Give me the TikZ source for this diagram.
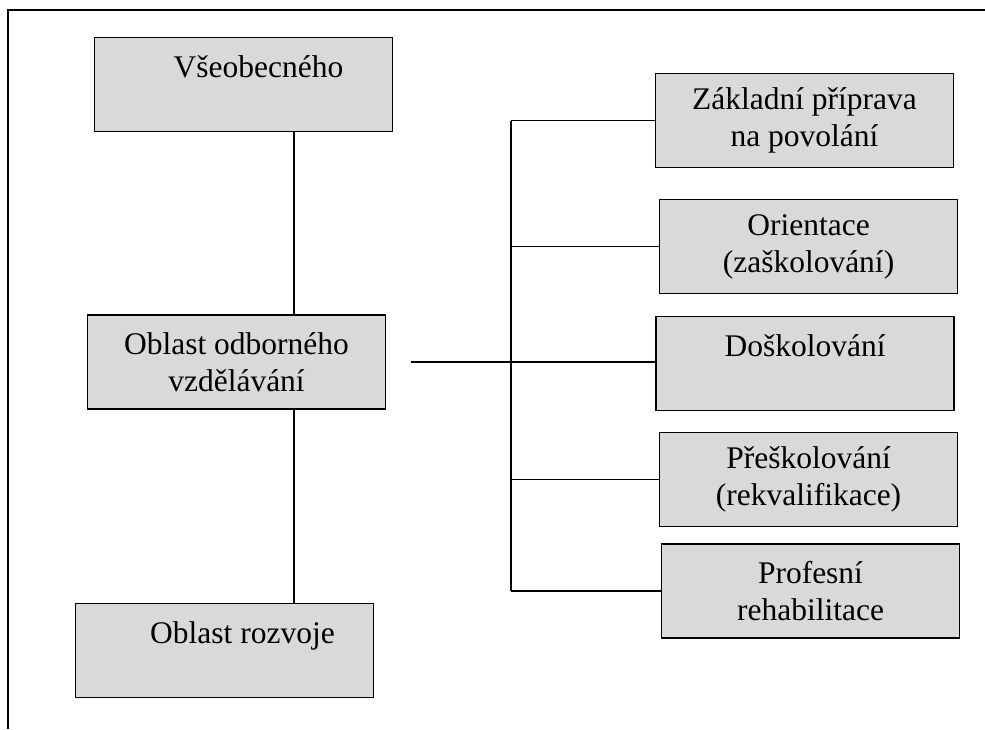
\documentclass[tikz,border=0pt]{standalone}
\usepackage{fontspec}
\setmainfont{Liberation Serif}
\definecolor{boxgray}{HTML}{D9D9D9}

\begin{document}
\begin{tikzpicture}[x=1pt, y=-1pt, line width=1.9pt,
    box/.style={draw, fill=boxgray, minimum width=298pt, minimum height=94pt,
        font=\fontsize{31.5}{37}\selectfont, align=center},
    topbox/.style={box, inner ysep=0pt, text height=40pt, text depth=54pt}]
    \useasboundingbox (0,0) rectangle (985,729);

    % Frame
    \draw (8,729) -- (8,10) -- (985,10);

    % Left column
    \node[topbox] (vseob) at (243.5,84.5) {\hspace*{30pt}Všeobecného};
    \node[box] (odborne) at (236.5,362) {Oblast odborného\\vzdělávání};
    \node[topbox] (rozvoj) at (224.5,650.5) {\hspace*{36pt}Oblast rozvoje};

    % Right column
    \node[box] (zaklad) at (804.5,120.5) {Základní příprava\\na povolání};
    \node[box] (orient) at (808.5,246.5) {Orientace\\(zaškolování)};
    \node[topbox] (dosk) at (805,363.5) {Doškolování};
    \node[box] (presk) at (808.5,479.5) {Přeškolování\\(rekvalifikace)};
    \node[box] (profes) at (810.5,591) {Profesní\\rehabilitace};

    % Connectors
    \coordinate (stem) at (294,0);
    \coordinate (bus) at (511,0);
    \draw (vseob.south -| stem) -- (odborne.north -| stem);
    \draw (odborne.south -| stem) -- (rozvoj.north -| stem);
    \draw ([xshift=25pt]odborne.east) -- (odborne.east -| dosk.west);
    \draw (bus |- zaklad.west) -- (bus |- profes.west);
    \foreach \n in {zaklad,orient,presk,profes}
        \draw (bus |- \n.west) -- (\n.west);
\end{tikzpicture}
\end{document}
